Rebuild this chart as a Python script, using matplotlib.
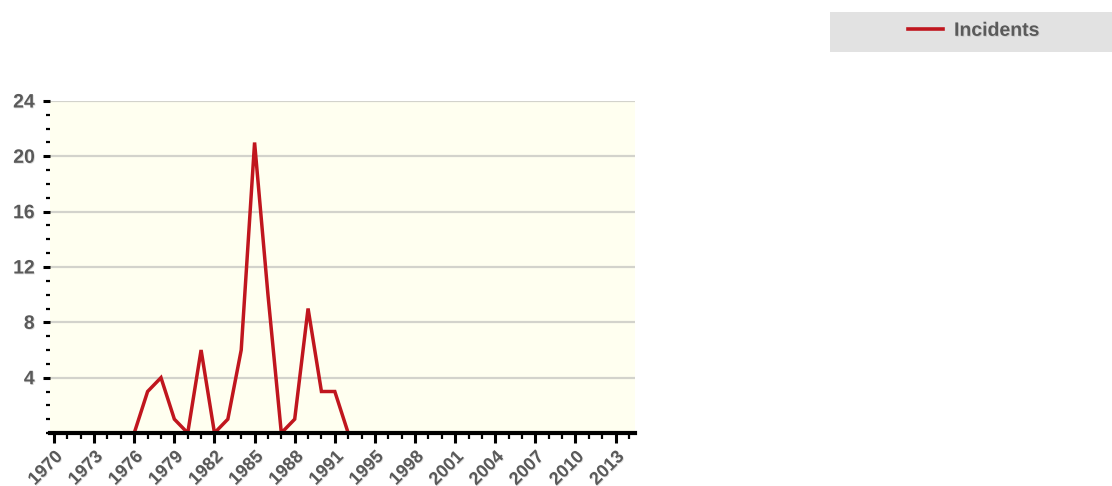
import numpy as np
import matplotlib
matplotlib.use("Agg")
import matplotlib.pyplot as plt
import matplotlib.patheffects as pe
from matplotlib.patches import Rectangle
from matplotlib.ticker import FixedLocator, MultipleLocator

# Years on the axis (1993 is absent from the data set)
years = list(range(1970, 1993)) + list(range(1994, 2015))
incidents = [0, 0, 0, 0, 0, 0, 0, 3, 4, 1, 0, 6, 0, 1, 6, 21, 10, 0, 1, 9, 3, 3, 0]
series_name = "Incidents"

plt.rcParams['font.family'] = ['Liberation Sans', 'DejaVu Sans']

line_color = '#c0161e'
label_color = '#5a5a5a'
shadow = [pe.withSimplePatchShadow(offset=(0.6, -0.6), shadow_rgbFace='#999999', alpha=0.35)]

fig = plt.figure(figsize=(11.12, 4.86), dpi=100)
ax = fig.add_axes([50 / 1112, 53 / 486, 585 / 1112, 332 / 486])
ax.set_facecolor('#fffff0')

x = np.arange(len(years))
ax.plot(x[:len(incidents)], incidents, color=line_color, lw=2.5,
        solid_joinstyle='miter', zorder=2, label=series_name)

ax.set_xlim(-0.3, len(years) - 0.55)
ax.set_ylim(0, 24)

# y axis
ax.yaxis.set_major_locator(FixedLocator([4, 8, 12, 16, 20, 24]))
ax.yaxis.set_minor_locator(MultipleLocator(1))
ax.grid(axis='y', which='major', color='#d3d3cc', lw=1.6, zorder=1)
ax.tick_params(axis='y', which='major', length=5, width=2.2, pad=6,
               labelsize=14, labelcolor=label_color, color='black')
ax.tick_params(axis='y', which='minor', length=3, width=1.6, color='black')

# x axis, categorical
ax.xaxis.set_major_locator(FixedLocator(x[::3]))
ax.xaxis.set_minor_locator(FixedLocator(x))
ax.set_xticks(x[::3])
ax.set_xticklabels([str(y) for y in years[::3]])
ax.tick_params(axis='x', which='major', length=7, width=2.2, pad=4,
               labelsize=13, labelcolor=label_color, color='black')
ax.tick_params(axis='x', which='minor', length=4, width=1.6, color='black')
for lab in ax.get_xticklabels():
    lab.set_rotation(45)
    lab.set_ha('right')
    lab.set_rotation_mode('anchor')
for lab in ax.get_xticklabels() + ax.get_yticklabels():
    lab.set_fontweight('bold')
    lab.set_path_effects(shadow)

for s in ['top', 'right', 'left']:
    ax.spines[s].set_visible(False)
ax.spines['bottom'].set_linewidth(3)
ax.spines['bottom'].set_color('black')
ax.spines['bottom'].set_zorder(3)

# legend box at the top right
fig.patches.append(Rectangle((830 / 1112, 1 - 52 / 486), 282 / 1112, 40 / 486,
                             transform=fig.transFigure, facecolor='#e2e2e2',
                             edgecolor='none'))
h, l = ax.get_legend_handles_labels()
leg = fig.legend(h, l, loc='center', bbox_to_anchor=(974 / 1112, 1 - 31 / 486),
                 frameon=False, handlelength=1.8, handletextpad=0.55,
                 prop={'size': 14, 'weight': 'bold'})
for t in leg.get_texts():
    t.set_color(label_color)
    t.set_path_effects(shadow)
for ln in leg.get_lines():
    ln.set_linewidth(2.6)

fig.savefig('out.png', dpi=100)
